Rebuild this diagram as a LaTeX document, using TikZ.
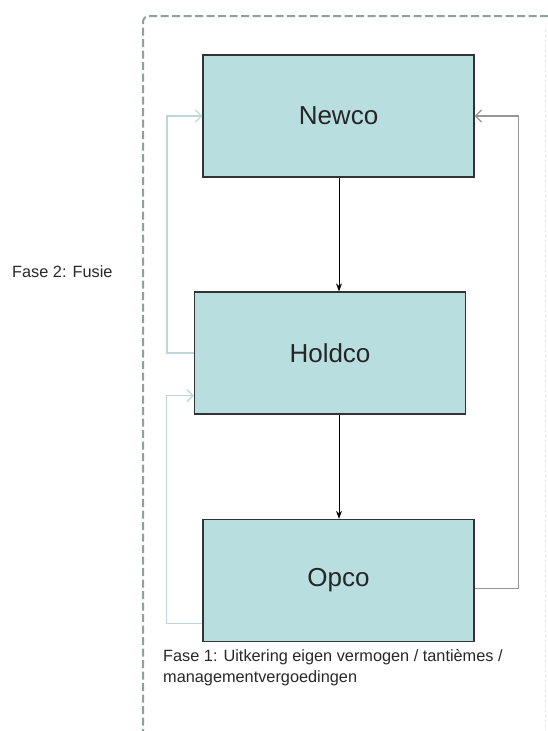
\documentclass[tikz,border=0pt]{standalone}
\usepackage{fontspec}
\setmainfont{Liberation Sans}
\usetikzlibrary{arrows.meta,calc}
\definecolor{boxfill}{RGB}{184,222,224}
\definecolor{framec}{RGB}{140,162,158}
\definecolor{lightc}{RGB}{190,216,216}
\definecolor{grayc}{RGB}{150,150,150}
\definecolor{txt}{RGB}{40,40,40}
\tikzset{
  entity/.style={draw=black!80, line width=1.3pt, fill=boxfill, minimum width=271pt, minimum height=122pt, inner sep=0pt, font=\fontsize{26}{30}\selectfont, text=black!85},
  flow/.style={draw=black, line width=1pt, -{Stealth[length=8pt,width=6pt]}},
  lightflow/.style={draw=lightc, line width=1.3pt, -{Straight Barb[length=6pt,width=12pt]}},
  grayflow/.style={draw=grayc, line width=1.3pt, -{Straight Barb[length=6pt,width=12pt]}},
  lbl/.style={inner sep=0pt, text=txt, font=\fontsize{16.3}{21}\selectfont, align=left},
}
\begin{document}
\begin{tikzpicture}[x=1pt,y=-1pt]
\useasboundingbox (0,0) rectangle (547,731);
% frame
\draw[framec, line width=2pt, dash pattern=on 8pt off 3.5pt, rounded corners=6pt] (143,760) -- (143,16) -- (560,16);
\draw[black!10, line width=1pt, dash pattern=on 2pt off 3pt] (545,30) -- (545,731);
% boxes
\node[entity] (newco) at (338.5,116) {Newco};
\node[entity] (holdco) at (330,353) {Holdco};
\node[entity] (opco) at (338.5,580.5) {Opco};
% vertical arrows
\draw[flow] (newco.south -| 339,0) -- (holdco.north -| 339,0);
\draw[flow] (holdco.south -| 339,0) -- (opco.north -| 339,0);
% left connectors
\draw[lightflow] (holdco.west) -- ++(-27,0) |- (newco.west);
\draw[lightflow] ($(opco.south west)+(0,-19)$) -- ++(-36,0) |- ($(holdco.south west)+(0,-19)$);
% right connector
\draw[grayflow] ($(opco.east)+(0,8)$) -- ++(44,0) |- (newco.east);
% labels
\node[lbl, anchor=base west] (f2) at (12,277) {Fase 2: Fusie};
\node[lbl, anchor=base west] (f1) at (163,682) {Fase 1: Uitkering eigen vermogen / tanti\`emes /\\managementvergoedingen};
\end{tikzpicture}
\end{document}
